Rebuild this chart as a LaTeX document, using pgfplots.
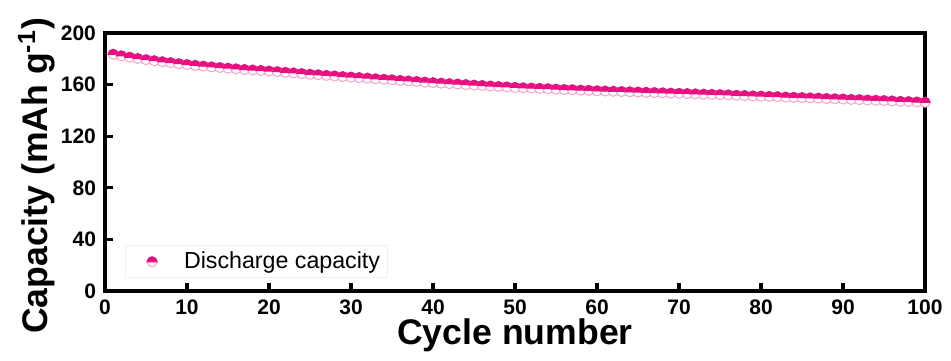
\documentclass[border=0pt]{standalone}
\usepackage{pgfplots}
\pgfplotsset{compat=1.18}
\usepackage{fontspec}
\setmainfont{Liberation Sans}
\usetikzlibrary{plotmarks}
\definecolor{mag}{RGB}{232,16,128}
\definecolor{lpink}{RGB}{240,165,205}
\pgfdeclareplotmark{tophalf}{%
  \pgfpathcircle{\pgfpointorigin}{\pgfplotmarksize}%
  \pgfsetfillcolor{white}\pgfsetstrokecolor{lpink}%
  \pgfusepathqfillstroke
  \pgfpathmoveto{\pgfqpoint{\pgfplotmarksize}{0pt}}%
  \pgfpatharc{0}{180}{\pgfplotmarksize}%
  \pgfpathclose
  \pgfsetfillcolor{mag}\pgfsetstrokecolor{mag}%
  \pgfusepathqfillstroke
}
\pgfplotstableread{
c v
1 183.5
2 182.3
3 181.2
4 180.2
5 179.3
6 178.5
7 177.7
8 177.0
9 176.2
10 175.5
11 174.9
12 174.3
13 173.7
14 173.2
15 172.7
16 172.2
17 171.7
18 171.3
19 170.9
20 170.5
21 170.0
22 169.5
23 169.0
24 168.5
25 168.0
26 167.6
27 167.1
28 166.7
29 166.2
30 165.8
31 165.4
32 165.0
33 164.5
34 164.1
35 163.7
36 163.2
37 162.8
38 162.4
39 161.9
40 161.5
41 161.1
42 160.7
43 160.4
44 160.0
45 159.6
46 159.3
47 158.9
48 158.5
49 158.2
50 157.8
51 157.5
52 157.3
53 157.0
54 156.8
55 156.5
56 156.2
57 156.0
58 155.7
59 155.5
60 155.2
61 155.0
62 154.8
63 154.6
64 154.4
65 154.2
66 154.0
67 153.8
68 153.6
69 153.4
70 153.2
71 153.0
72 152.8
73 152.6
74 152.4
75 152.2
76 152.0
77 151.7
78 151.5
79 151.2
80 151.0
81 150.8
82 150.6
83 150.3
84 150.1
85 149.9
86 149.7
87 149.5
88 149.2
89 149.0
90 148.8
91 148.5
92 148.3
93 148.0
94 147.8
95 147.6
96 147.3
97 147.0
98 146.8
99 146.5
100 146.3
}\datatable
\begin{document}
\begin{tikzpicture}
\begin{axis}[
  width=410pt, height=129pt, scale only axis,
  xmin=0, xmax=100, ymin=0, ymax=200,
  xtick={0,10,...,100}, ytick={0,40,...,200},
  xtick pos=lower, ytick pos=left,
  tick align=inside, major tick length=4pt,
  every tick/.style={line width=1.6pt, black},
  axis line style={line width=1.75pt},
  axis on top,
  /pgf/number format/assume math mode=true,
  tick label style={font=\bfseries\fontsize{10.5}{12}\selectfont},
  xticklabel style={yshift=-1pt},
  yticklabel style={xshift=-1pt},
  xlabel={Cycle number},
  ylabel={Capacity (mAh g\textsuperscript{-1})},
  label style={font=\bfseries\fontsize{17.8}{20}\selectfont},
  xlabel style={yshift=5pt},
  ylabel style={at={(ticklabel cs:0.446)}, yshift=-4pt},
  legend style={at={(0.024,0.05)}, anchor=south west, draw=black!6,
    font=\fontsize{11.6}{13}\selectfont, inner xsep=1.5pt, inner ysep=1pt},
  legend cell align=left,
  legend image code/.code={%
    \path[draw=none,fill=none] (0pt,0pt) -- (26pt,0pt);
    \path[draw=none,fill=none] plot[only marks, mark=tophalf, mark size=2.5pt, line width=0.5pt] coordinates {(12pt,0pt)};},
]
\addplot[only marks, mark=tophalf, mark size=2.5pt, line width=0.5pt] table[x=c,y=v] {\datatable};
\addlegendentry{Discharge capacity}
\end{axis}
\pgfresetboundingbox
\path[use as bounding box] (-52.5pt,-34.5pt) rectangle (423pt,145.5pt);
\end{tikzpicture}
\end{document}
